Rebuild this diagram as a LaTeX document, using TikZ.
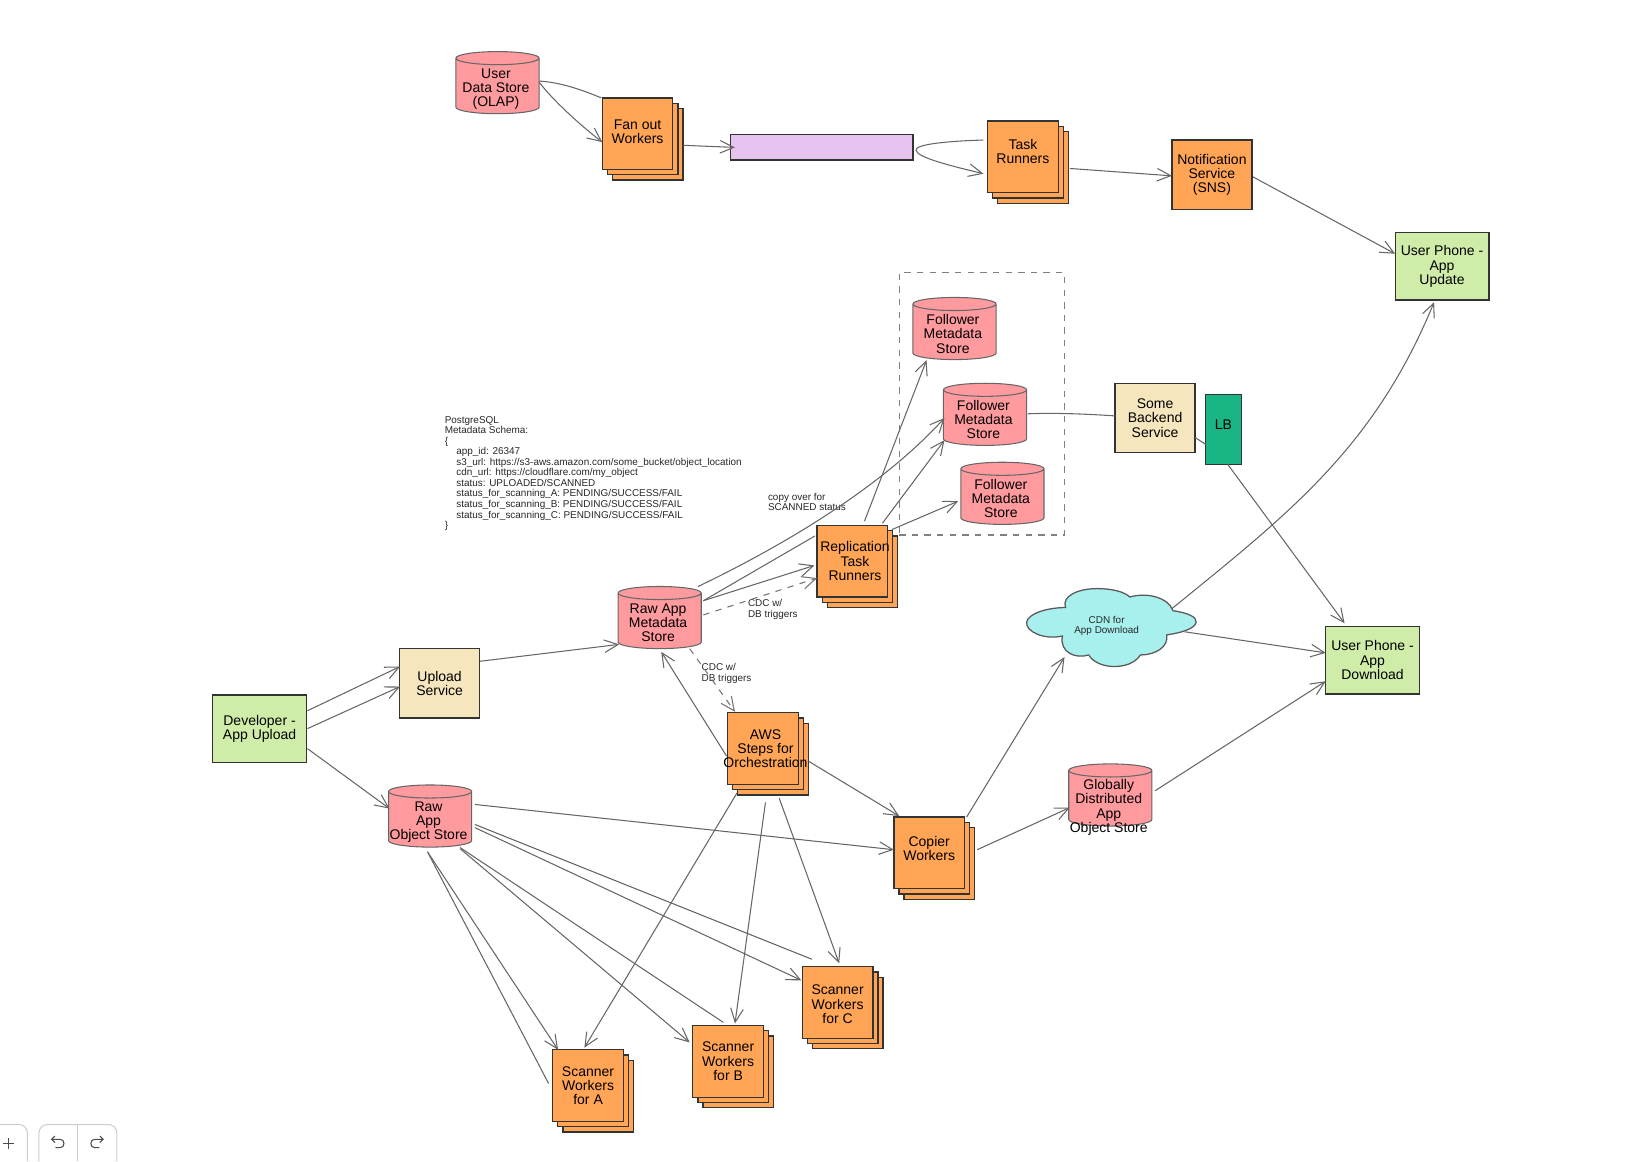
\documentclass[tikz,border=0pt]{standalone}
\usepackage{fontspec}
\setmainfont{Liberation Sans}
\usepackage[dvipsnames]{xcolor}
\usetikzlibrary{shapes.geometric,shadows,arrows.meta}
\definecolor{workerfill}{HTML}{FFA555}
\definecolor{storefill}{HTML}{FF9A9F}
\definecolor{servicefill}{HTML}{F5E6BD}
\definecolor{phonefill}{HTML}{CFEDA9}
\definecolor{lbfill}{HTML}{19B585}
\definecolor{queuefill}{HTML}{E6C3EE}
\definecolor{cloudfill}{HTML}{A8F0EE}
\definecolor{linegray}{HTML}{666666}
% text of a store keeps out of the size of the cylinder
\newcommand{\storetext}[2][-2.6pt]{\hspace*{-1.5pt}\raisebox{#1}[0pt][0pt]{\parbox{38pt}{\centering #2}}}
\begin{document}
\begin{tikzpicture}[x=.5pt,y=-.5pt,>={Straight Barb[length=6.5pt,width=6pt]},
    every edge/.style={draw,linegray,line width=.5pt},
    main font/.style={font=\fontsize{6.65}{6.8}\selectfont,align=center},
    note font/.style={font=\fontsize{4.72}{5}\selectfont,align=left,inner sep=0pt,text=black!85},
    box node/.style={main font,draw=black!80,line width=.6pt,inner sep=0pt,outer sep=0pt,minimum width=#1},
    box node/.default=38pt,
    service node/.style={box node,fill=servicefill,minimum width=38pt,minimum height=33pt},
    phone node/.style={box node,fill=phonefill,minimum width=44.5pt,minimum height=32pt},
    worker node/.style={box node,fill=workerfill,minimum width=33.5pt,minimum height=34pt,
        double copy shadow={shadow xshift=2.4pt,shadow yshift=-2.5pt,fill=workerfill,draw=black!80}},
    store node/.style={main font,cylinder,shape border rotate=90,shape aspect=.17,draw=black!60,line width=.5pt,
        fill=storefill,inner sep=0pt,outer sep=0pt,minimum width=39.5pt,minimum height=29.5pt,anchor=shape center},
    ]
    \useasboundingbox (0,0) rectangle (1568,1103);

    % stores
    \node[store node] (userStore) at (472.5,78.5) {\storetext[-3.2pt]{User\\Data Store\\(OLAP)}};
    \node[store node] (followerA) at (906.5,312) {\storetext{Follower\\Metadata\\Store}};
    \node[store node] (followerB) at (935.5,393.5) {\storetext{Follower\\Metadata\\Store}};
    \node[store node] (followerC) at (952,468.5) {\storetext{Follower\\Metadata\\Store}};
    \node[store node] (rawMeta) at (626.5,586.5) {\storetext{Raw App\\Metadata\\Store}};
    \node[store node] (rawObject) at (408.5,775) {\storetext[-3pt]{Raw\\App\\Object Store}};
    \node[store node] (globalStore) at (1054.5,755) {\storetext[-6pt]{Globally\\Distributed\\App\\Object Store}};

    % workers
    \node[worker node,text depth=2pt] (fanOut) at (605.5,127) {Fan out\\Workers};
    \node[worker node,text depth=5pt] (taskRunners) at (971.5,149) {Task\\Runners};
    \node[worker node] (replication) at (809.5,533) {\makebox[0pt]{\hspace{2.5pt}Replication}\\\hspace*{2.5pt}Task\\\hspace*{2.5pt}Runners};
    \node[worker node] (awsSteps) at (724.5,711) {\hspace*{2.5pt}AWS\\\hspace*{2.5pt}Steps for\\\makebox[0pt]{\hspace{2.5pt}Orchestration}};
    \node[worker node,text depth=4pt] (copier) at (882.5,810) {Copier\\Workers};
    \node[worker node,text height=20pt] (scanC) at (795.5,952) {Scanner\\Workers\\for C};
    \node[worker node] (scanB) at (691.5,1008) {Scanner\\Workers\\for B};
    \node[worker node] (scanA) at (558.5,1031) {Scanner\\Workers\\for A};

    % services
    \node[box node,fill=workerfill,minimum width=38pt,minimum height=33pt] (notif) at (1151,166) {Notification\\Service\\(SNS)};
    \node[box node,fill=queuefill,minimum width=86.5pt,minimum height=12pt] (queue) at (780.5,140) {};
    \node[service node] (upload) at (417.5,649) {Upload\\Service};
    \node[service node] (backend) at (1097,397) {Some\\Backend\\Service};
    \node[box node,fill=lbfill,minimum width=17pt,minimum height=33pt,text depth=5pt] (lb) at (1162,408) {LB};
    \node[phone node] (phoneUpdate) at (1369.5,253) {User Phone -\\App\\Update};
    \node[phone node] (phoneDownload) at (1303.5,627) {User Phone -\\App\\Download};
    \node[phone node] (devUpload) at (246.5,692) {Developer -\\App Upload};

    % cloud
    \draw[fill=cloudfill,draw=black!65,line width=.6pt]
        (975,591) .. controls (976,583) and (994,577) .. (1012,577)
        .. controls (1008,566) and (1024,559) .. (1042,559)
        .. controls (1056,559) and (1068,562) .. (1073,567)
        .. controls (1090,562) and (1110,568) .. (1114,580)
        .. controls (1128,582) and (1137,586) .. (1136,591)
        .. controls (1135,597) and (1122,601) .. (1108,603)
        .. controls (1110,614) and (1098,622) .. (1083,622)
        .. controls (1078,630) and (1068,633) .. (1058,633)
        .. controls (1048,633) and (1038,629) .. (1034,622)
        .. controls (1022,626) and (1006,620) .. (1009,604)
        .. controls (992,608) and (974,600) .. (975,591) -- cycle;
    \node[note font,align=center] (cdn) at (1051,594.5) {CDN for\\App Download};

    \node[draw=black!50,dashed,line width=.6pt,minimum width=78.5pt,minimum height=124.5pt,inner sep=0pt] (followerGroup) at (932.5,383.5) {};

    % texts
    \node[note font,anchor=north west] (schemaText) at (422,395) {PostgreSQL\\Metadata Schema:\\\{\\
        \hspace*{5.5pt}app\_id: 26347\\
        \hspace*{5.5pt}s3\_url: https://s3-aws.amazon.com/some\_bucket/object\_location\\
        \hspace*{5.5pt}cdn\_url: https://cloudflare.com/my\_object\\
        \hspace*{5.5pt}status: UPLOADED/SCANNED\\
        \hspace*{5.5pt}status\_for\_scanning\_A: PENDING/SUCCESS/FAIL\\
        \hspace*{5.5pt}status\_for\_scanning\_B: PENDING/SUCCESS/FAIL\\
        \hspace*{5.5pt}status\_for\_scanning\_C: PENDING/SUCCESS/FAIL\\\}};
    \node[note font,anchor=north west] (copyText) at (729,468) {copy over for\\SCANNED status};
    \node[note font,anchor=north west] (cdcTextA) at (710,569) {CDC w/\\DB triggers};
    \node[note font,anchor=north west] (cdcTextB) at (666,630) {CDC w/\\DB triggers};

    % top row
    \draw[linegray,line width=.5pt] ([shift={(39.5,-1.5)}]userStore.shape center) .. controls (530,78) and (550,84) .. ([shift={(-34.5,-34)}]fanOut.center);
    \draw[->,linegray,line width=.5pt] ([shift={(39.5,-.5)}]userStore.shape center) .. controls (525,95) and (550,118) .. ([shift={(-33.5,8)}]fanOut.center);
    \draw[->,linegray,line width=.5pt] ([shift={(-37.5,-16)}]taskRunners.center) .. controls (900,134) and (868,137) .. (870,143) .. controls (872,150) and (905,158) .. ([shift={(-37.5,16)}]taskRunners.center);
    \path[->]
        ([shift={(43.5,11)}]fanOut.center) edge ([shift={(-82.5,0)}]queue.center)
        ([shift={(44.5,11)}]taskRunners.center) edge ([shift={(-38,1)}]notif.center)
        ([shift={(39,2)}]notif.center) edge ([shift={(-44.5,-12)}]phoneUpdate.center)
        ;

    % upload path
    \path[->]
        ([shift={(45.5,-17)}]devUpload.center) edge ([shift={(-37.5,-16)}]upload.center)
        ([shift={(45.5,0)}]devUpload.center) edge ([shift={(-37.5,3)}]upload.center)
        ([shift={(45.5,19)}]devUpload.center) edge ([shift={(-38.5,-7)}]rawObject.shape center)
        ([shift={(38.5,-21)}]upload.center) edge ([shift={(-38.5,25.5)}]rawMeta.shape center)
        ([shift={(-34.5,7)}]awsSteps.center) edge ([shift={(1.5,32.5)}]rawMeta.shape center)
        ;
    \path[->,every edge/.append style={dashed,black!55}]
        ([shift={(41.5,-2.5)}]rawMeta.shape center) edge ([shift={(-33.5,16)}]replication.center)
        ([shift={(28.5,29.5)}]rawMeta.shape center) edge ([shift={(-26.5,-35)}]awsSteps.center)
        ;

    % replication
    \draw[->,linegray,line width=.5pt] ([shift={(36.5,-29.5)}]rawMeta.shape center) .. controls (740,520) and (835,465) .. ([shift={(-38.5,3.5)}]followerB.shape center);
    \path
        ([shift={(41.5,-16)}]rawMeta.shape center) edge ([shift={(-35.5,-24)}]replication.center);
    \path[->]
        ([shift={(41.5,-16)}]rawMeta.shape center) edge ([shift={(-36,4)}]replication.center)
        ([shift={(11.5,-38)}]replication.center) edge ([shift={(-26.5,30)}]followerA.shape center)
        ([shift={(28.5,-36)}]replication.center) edge ([shift={(-38.5,24.5)}]followerB.shape center)
        ([shift={(37.5,-30)}]replication.center) edge ([shift={(-42,7.5)}]followerC.shape center)
        ;
    \draw[linegray,line width=.5pt] ([shift={(40.5,-.5)}]followerB.shape center) .. controls (1000,392) and (1030,393) .. ([shift={(-38,-2)}]backend.center);
    \path
        ([shift={(38,18.5)}]backend.center) edge ([shift={(-17,14)}]lb.center);

    % download path
    \draw[->,linegray,line width=.5pt] ([shift={(62,-16.5)}]cdn.center) .. controls (1225,487) and (1305,425) .. ([shift={(-7.5,34)}]phoneUpdate.center);
    \path[->]
        ([shift={(4,33)}]lb.center) edge ([shift={(-26.5,-35)}]phoneDownload.center)
        ([shift={(74,5.5)}]cdn.center) edge ([shift={(-44.5,-7)}]phoneDownload.center)
        ([shift={(35.5,-34)}]copier.center) edge ([shift={(-40,29.5)}]cdn.center)
        ([shift={(45.5,-3)}]copier.center) edge ([shift={(-38.5,12)}]globalStore.shape center)
        ([shift={(42.5,-4)}]globalStore.shape center) edge ([shift={(-44.5,20)}]phoneDownload.center)
        ([shift={(43.5,12)}]awsSteps.center) edge ([shift={(-28.5,-35)}]copier.center)
        ([shift={(42.5,-11)}]rawObject.shape center) edge ([shift={(-33.5,-3)}]copier.center)
        ;

    % scanners
    \path[->]
        ([shift={(15.5,47)}]awsSteps.center) edge ([shift={(1.5,-37)}]scanC.center)
        ([shift={(2.5,51)}]awsSteps.center) edge ([shift={(6.5,-36)}]scanB.center)
        ([shift={(-24.5,42)}]awsSteps.center) edge ([shift={(-3.5,-36)}]scanA.center)
        ([shift={(42.5,11)}]rawObject.shape center) edge ([shift={(-34.5,-21)}]scanC.center)
        ([shift={(28.5,31)}]rawObject.shape center) edge ([shift={(-36.5,-18)}]scanB.center)
        ([shift={(-2.5,34)}]rawObject.shape center) edge ([shift={(-28.5,-34)}]scanA.center)
        ;
    \path
        ([shift={(42.5,8)}]rawObject.shape center) edge ([shift={(-24.5,-41)}]scanC.center)
        ([shift={(28.5,30)}]rawObject.shape center) edge ([shift={(-4.5,-37)}]scanB.center)
        ([shift={(-2.5,34)}]rawObject.shape center) edge ([shift={(-37.5,-2)}]scanA.center)
        ;

    % toolbar
    \draw[black!20,line width=.5pt,rounded corners=4pt] (0,1068) -- (26,1068) -- (26,1103);
    \draw[black!20,line width=.5pt,rounded corners=4pt] (37,1103) -- (37,1068) -- (111,1068) -- (111,1103);
    \draw[black!20,line width=.5pt] (74,1068) -- (74,1103);
    \draw[black!70,line width=.5pt] (3,1086) -- (13,1086) (8,1081) -- (8,1091);
    \draw[black!70,line width=.5pt,line cap=round] (52,1079) -- (49,1082) -- (52,1085) (49,1082) -- (57,1082) .. controls (62,1082) and (62,1090) .. (57,1090) -- (53,1090);
    \draw[black!70,line width=.5pt,line cap=round] (95,1079) -- (98,1082) -- (95,1085) (98,1082) -- (90,1082) .. controls (85,1082) and (85,1090) .. (90,1090) -- (94,1090);
\end{tikzpicture}
\end{document}
